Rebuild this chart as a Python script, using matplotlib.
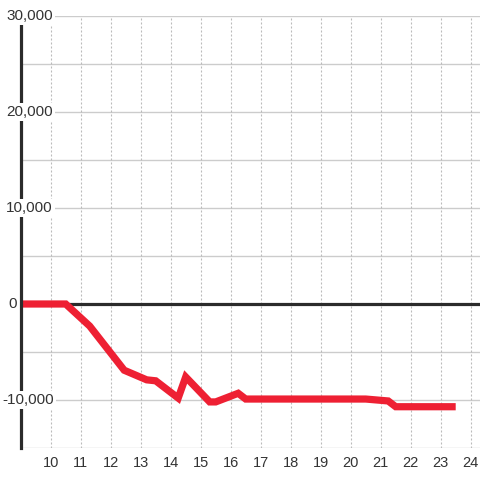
import matplotlib
matplotlib.use("Agg")
import matplotlib.pyplot as plt

plt.rcParams["font.family"] = ["Liberation Sans", "DejaVu Sans"]

# hour of day vs running change
hours = [9.0, 10.5, 11.3, 12.45, 13.2, 13.5, 14.25, 14.5, 15.3, 15.5,
         16.25, 16.5, 20.5, 21.25, 21.5, 23.5]
values = [0, 0, -2300, -6900, -7900, -8000, -9800, -7600, -10200, -10200,
          -9300, -9900, -9900, -10100, -10700, -10700]

x_ticks = list(range(10, 25))
y_ticks = [-10000, 0, 10000, 20000, 30000]
y_labels = ["-10,000", "0", "10,000", "20,000", "30,000"]

W = 480
fig = plt.figure(figsize=(4.8, 4.8), dpi=100)
left_px = 20.7
ax = fig.add_axes([left_px / W, 32 / W, (W - left_px) / W, 432 / W])

ax.set_xlim(9, 9 + (W - left_px) / 30)
ax.set_ylim(-15000, 30000)

# grid
for y in range(-15000, 30001, 5000):
    ax.axhline(y, color="#cccccc", lw=1, zorder=1)
for x in x_ticks:
    ax.axvline(x, color="#bbbbbb", lw=0.8, ls=(0, (1.8, 1.8)), zorder=1)

ax.axhline(0, color="#2b2b2b", lw=2.3, zorder=2)

ax.plot(hours, values, color="#ee2033", lw=5.2, solid_joinstyle="miter",
        solid_capstyle="butt", zorder=3, clip_on=False)

for s in ["top", "right", "bottom"]:
    ax.spines[s].set_visible(False)
ax.spines["left"].set_color("#2b2b2b")
ax.spines["left"].set_linewidth(2.3)
ax.spines["left"].set_zorder(4)

ax.set_xticks(x_ticks)
ax.set_xticklabels([str(x) for x in x_ticks], fontsize=10.5, color="#333333")
ax.tick_params(axis="x", length=0, pad=6)
ax.set_yticks([])

for y, lab in zip(y_ticks, y_labels):
    x0 = (2 if lab.startswith("-") else 6)
    if lab == "0":
        x0 = 8
    ax.text((x0 - left_px) / (W - left_px), y, lab, transform=ax.get_yaxis_transform(),
            ha="left", va="center", fontsize=11, color="#333333", zorder=5,
            bbox=dict(facecolor="white", edgecolor="none", pad=1.5))

fig.savefig("out.png", dpi=100)
